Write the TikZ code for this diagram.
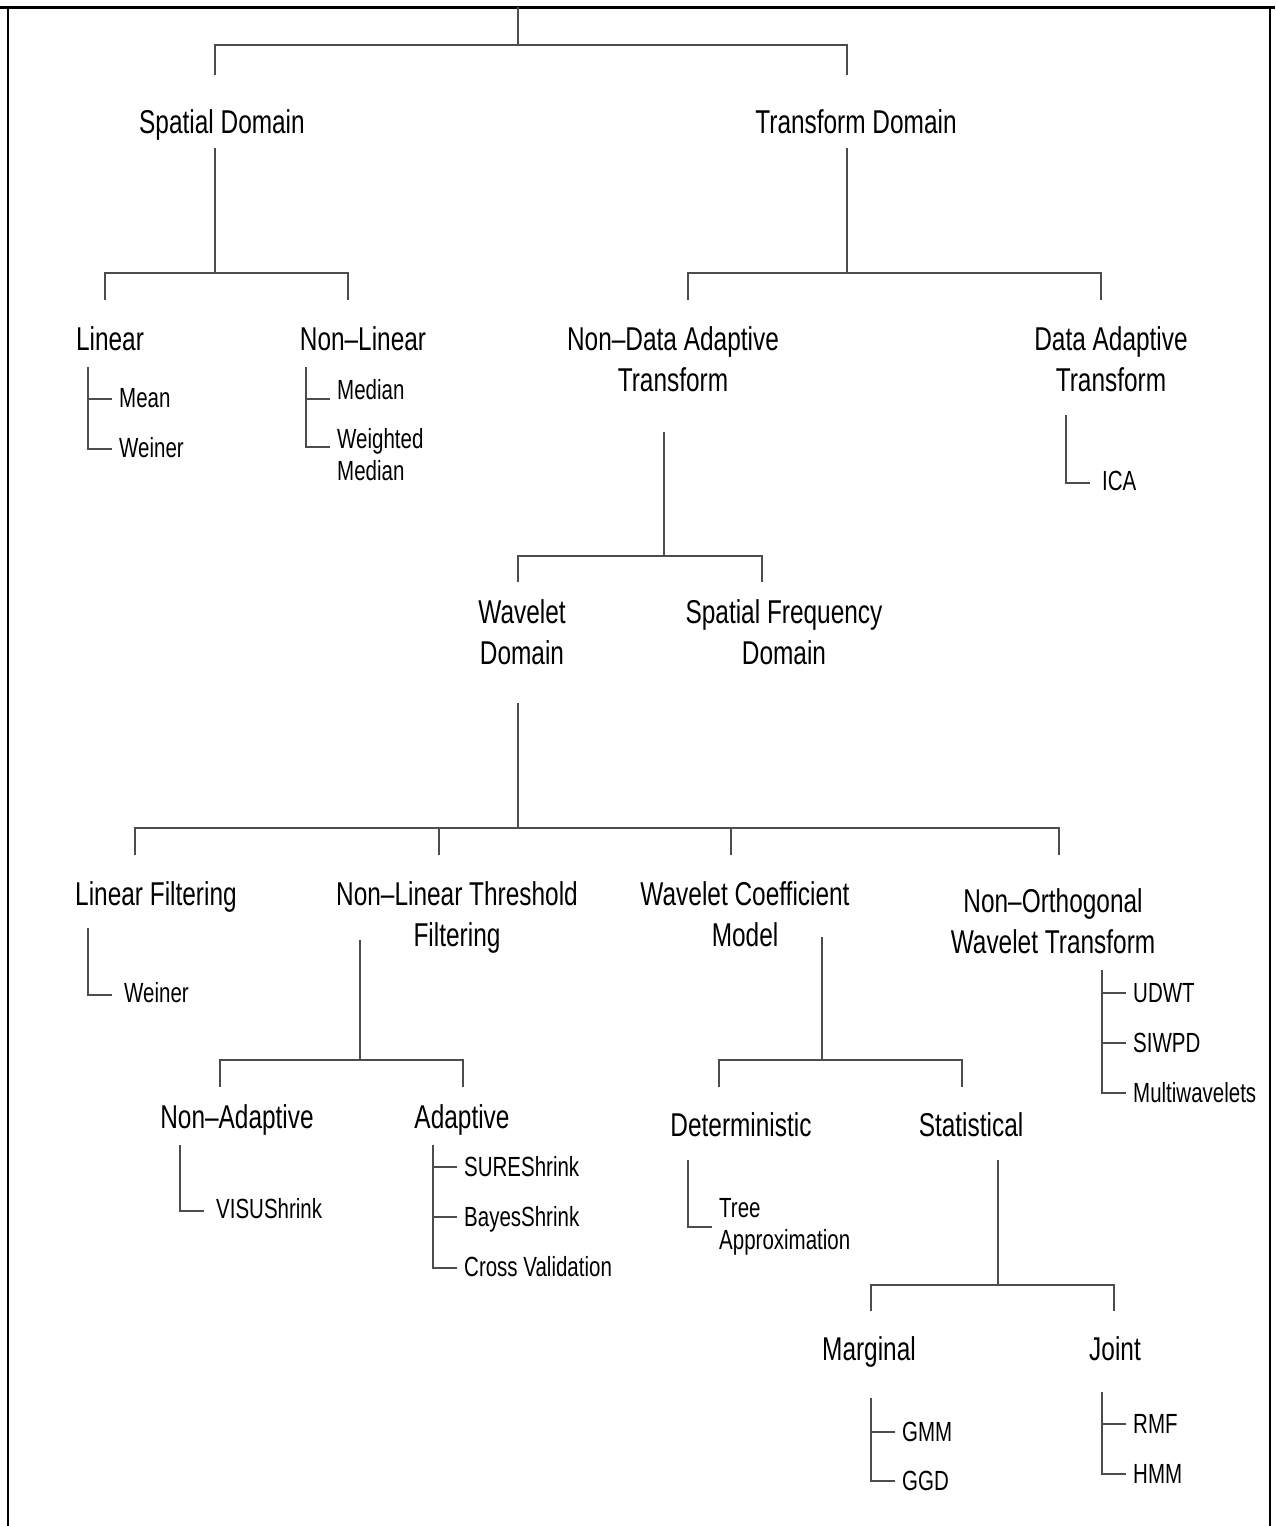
\documentclass[tikz,border=0pt]{standalone}
\usepackage{fontspec}
\setmainfont{Liberation Sans}[FakeStretch=0.74]

\tikzset{
  head/.style={font=\fontsize{33}{41}\selectfont, inner sep=0pt, align=center, anchor=base},
  leaf/.style={font=\fontsize{27.7}{32}\selectfont, inner sep=0pt, align=left, anchor=base west},
  branch/.style={draw=black!70, line width=1.6pt},
}

\begin{document}
\begin{tikzpicture}[x=1pt, y=-1pt]
    \useasboundingbox (0,0) rectangle (1275,1526);

    % frame
    \draw[line width=3pt] (0,7) -- (1275,7);
    \draw[line width=2pt] (8,7) -- (8,1526);
    \draw[line width=2pt] (1270,7) -- (1270,1526);

    % headings (base = last line)
    \node[head] (sd) at (222,133) {Spatial Domain};
    \node[head] (td) at (856,133) {Transform Domain};
    \node[head] (lin) at (110,350) {Linear};
    \node[head] (nl) at (363,350) {Non--Linear};
    \node[head] (ndat) at (673,391) {Non--Data Adaptive\\Transform};
    \node[head] (dat) at (1111,391) {Data Adaptive\\Transform};
    \node[head] (wd) at (522,664) {Wavelet\\Domain};
    \node[head] (sfd) at (784,664) {Spatial Frequency\\Domain};
    \node[head] (lf) at (156,905) {Linear Filtering};
    \node[head] (nltf) at (457,946) {Non--Linear Threshold\\Filtering};
    \node[head] (wcm) at (745,946) {Wavelet Coefficient\\Model};
    \node[head] (nowt) at (1053,953) {Non--Orthogonal\\Wavelet Transform};
    \node[head] (na) at (237,1128) {Non--Adaptive};
    \node[head] (ad) at (462,1128) {Adaptive};
    \node[head] (det) at (741,1136) {Deterministic};
    \node[head] (st) at (971,1136) {Statistical};
    \node[head] (mg) at (869,1360) {Marginal};
    \node[head] (jt) at (1115,1360) {Joint};

    % leaves
    \node[leaf] (mean) at (119,407) {Mean};
    \node[leaf] (weiner) at (119,457) {Weiner};
    \node[leaf] (median) at (337,399) {Median};
    \node[leaf] (wmedian) at (337,480) {Weighted\\Median};
    \node[leaf] (ica) at (1102,490) {ICA};
    \node[leaf] (lfweiner) at (124,1002) {Weiner};
    \node[leaf] (visu) at (216,1218) {VISUShrink};
    \node[leaf] (sure) at (464,1176) {SUREShrink};
    \node[leaf] (bayes) at (464,1226) {BayesShrink};
    \node[leaf] (cross) at (464,1276) {Cross Validation};
    \node[leaf] (tree) at (719,1249) {Tree\\Approximation};
    \node[leaf] (udwt) at (1133,1002) {UDWT};
    \node[leaf] (siwpd) at (1133,1052) {SIWPD};
    \node[leaf] (multi) at (1133,1102) {Multiwavelets};
    \node[leaf] (gmm) at (902,1441) {GMM};
    \node[leaf] (ggd) at (902,1490) {GGD};
    \node[leaf] (rmf) at (1133,1433) {RMF};
    \node[leaf] (hmm) at (1133,1483) {HMM};

    % forks
    \coordinate (root) at (518,7);
    \coordinate (root-bar) at (518,45);
    \coordinate (sd-in) at (215,75);
    \coordinate (td-in) at (847,75);
    \draw[branch] (root) -- (root-bar);
    \draw[branch] (sd-in) |- (root-bar) -| (td-in);

    \coordinate (sd-out) at (215,148);
    \coordinate (sd-bar) at (215,273);
    \coordinate (lin-in) at (105,300);
    \coordinate (nl-in) at (348,300);
    \draw[branch] (sd-out) -- (sd-bar);
    \draw[branch] (lin-in) |- (sd-bar) -| (nl-in);

    \coordinate (td-out) at (847,148);
    \coordinate (td-bar) at (847,273);
    \coordinate (ndat-in) at (688,300);
    \coordinate (dat-in) at (1101,300);
    \draw[branch] (td-out) -- (td-bar);
    \draw[branch] (ndat-in) |- (td-bar) -| (dat-in);

    \coordinate (ndat-out) at (664,432);
    \coordinate (ndat-bar) at (664,556);
    \coordinate (wd-in) at (518,582);
    \coordinate (sfd-in) at (762,582);
    \draw[branch] (ndat-out) -- (ndat-bar);
    \draw[branch] (wd-in) |- (ndat-bar) -| (sfd-in);

    \coordinate (wd-out) at (518,703);
    \coordinate (wd-bar) at (518,828);
    \coordinate (lf-in) at (135,855);
    \coordinate (nltf-in) at (439,855);
    \coordinate (wcm-in) at (731,855);
    \coordinate (nowt-in) at (1059,855);
    \draw[branch] (wd-out) -- (wd-bar);
    \draw[branch] (lf-in) |- (wd-bar) -| (nowt-in);
    \draw[branch] (nltf-in) -- (nltf-in |- wd-bar);
    \draw[branch] (wcm-in) -- (wcm-in |- wd-bar);

    \coordinate (nltf-out) at (360,940);
    \coordinate (nltf-bar) at (360,1060);
    \coordinate (na-in) at (220,1087);
    \coordinate (ad-in) at (463,1087);
    \draw[branch] (nltf-out) -- (nltf-bar);
    \draw[branch] (na-in) |- (nltf-bar) -| (ad-in);

    \coordinate (wcm-out) at (822,937);
    \coordinate (wcm-bar) at (822,1060);
    \coordinate (det-in) at (719,1087);
    \coordinate (st-in) at (962,1087);
    \draw[branch] (wcm-out) -- (wcm-bar);
    \draw[branch] (det-in) |- (wcm-bar) -| (st-in);

    \coordinate (st-out) at (998,1160);
    \coordinate (st-bar) at (998,1285);
    \coordinate (mg-in) at (871,1311);
    \coordinate (jt-in) at (1114,1311);
    \draw[branch] (st-out) -- (st-bar);
    \draw[branch] (mg-in) |- (st-bar) -| (jt-in);

    % leaf lists
    \coordinate (lin-leaf) at (88,367);
    \draw[branch] (lin-leaf) |- ([xshift=-7pt,yshift=8pt]weiner.base west);
    \draw[branch] ([xshift=-7pt,yshift=8pt]mean.base west) -- ++(-24pt,0);

    \coordinate (nl-leaf) at (306,367);
    \draw[branch] (nl-leaf) |- ([xshift=-7pt,yshift=33pt]wmedian.base west);
    \draw[branch] ([xshift=-7pt]median.base west) -- ++(-24pt,0);

    \coordinate (dat-leaf) at (1066,415);
    \draw[branch] (dat-leaf) |- ([xshift=-12pt,yshift=7pt]ica.base west);

    \coordinate (lf-leaf) at (88,928);
    \draw[branch] (lf-leaf) |- ([xshift=-12pt,yshift=7pt]lfweiner.base west);

    \coordinate (na-leaf) at (180,1145);
    \draw[branch] (na-leaf) |- ([xshift=-12pt,yshift=7pt]visu.base west);

    \coordinate (ad-leaf) at (433,1145);
    \draw[branch] (ad-leaf) |- ([xshift=-7pt,yshift=8pt]cross.base west);
    \draw[branch] ([xshift=-7pt,yshift=9pt]sure.base west) -- ++(-24pt,0);
    \draw[branch] ([xshift=-7pt,yshift=9pt]bayes.base west) -- ++(-24pt,0);

    \coordinate (det-leaf) at (688,1160);
    \draw[branch] (det-leaf) |- ([xshift=-7pt,yshift=22pt]tree.base west);

    \coordinate (nowt-leaf) at (1102,970);
    \draw[branch] (nowt-leaf) |- ([xshift=-7pt,yshift=9pt]multi.base west);
    \draw[branch] ([xshift=-7pt,yshift=9pt]udwt.base west) -- ++(-24pt,0);
    \draw[branch] ([xshift=-7pt,yshift=9pt]siwpd.base west) -- ++(-24pt,0);

    \coordinate (mg-leaf) at (871,1398);
    \draw[branch] (mg-leaf) |- ([xshift=-7pt,yshift=9pt]ggd.base west);
    \draw[branch] ([xshift=-7pt,yshift=9pt]gmm.base west) -- ++(-24pt,0);

    \coordinate (jt-leaf) at (1102,1392);
    \draw[branch] (jt-leaf) |- ([xshift=-7pt,yshift=9pt]hmm.base west);
    \draw[branch] ([xshift=-7pt,yshift=9pt]rmf.base west) -- ++(-24pt,0);
\end{tikzpicture}
\end{document}
